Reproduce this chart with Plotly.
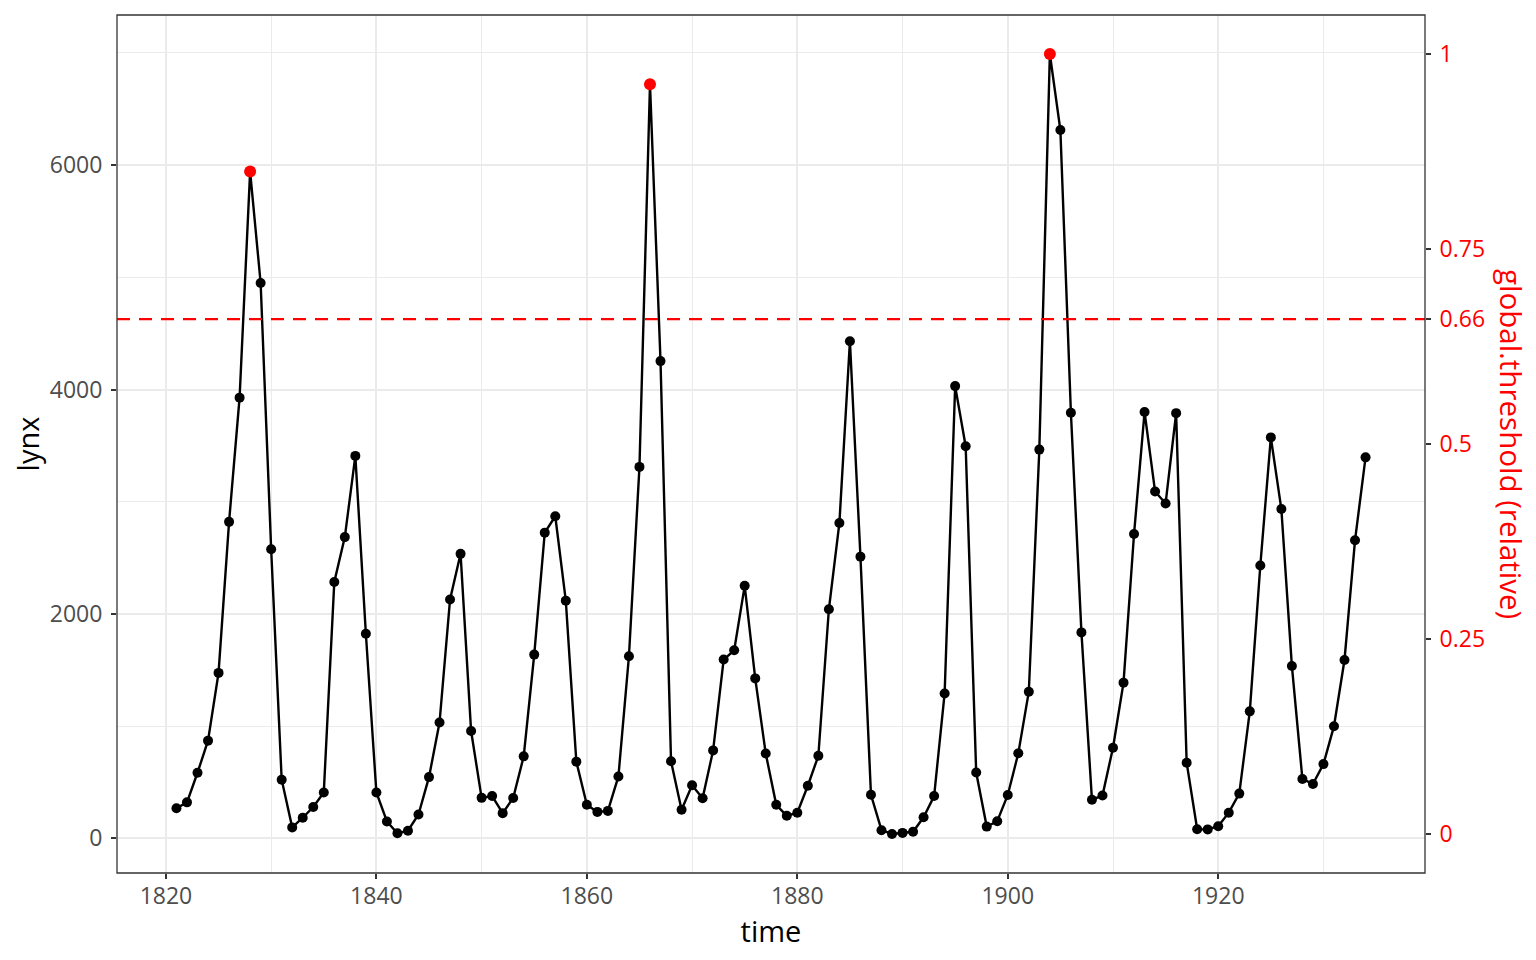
import plotly.graph_objects as go

years = list(range(1821, 1935))
lynx = [269, 321, 585, 871, 1475, 2821, 3928, 5943, 4950, 2577, 523, 98, 184, 279, 409,
        2285, 2685, 3409, 1824, 409, 151, 45, 68, 213, 546, 1033, 2129, 2536, 957, 361,
        377, 225, 360, 731, 1638, 2725, 2871, 2119, 684, 299, 236, 245, 552, 1623, 3311,
        6721, 4254, 687, 255, 473, 358, 784, 1594, 1676, 2251, 1426, 756, 299, 201, 229,
        469, 736, 2042, 2811, 4431, 2511, 389, 73, 39, 49, 59, 188, 377, 1292, 4031,
        3495, 587, 105, 153, 387, 758, 1307, 3465, 6991, 6313, 3794, 1836, 345, 382,
        808, 1388, 2713, 3800, 3091, 2985, 3790, 674, 81, 80, 108, 229, 399, 1132, 2432,
        3574, 2935, 1537, 529, 485, 662, 1000, 1590, 2657, 3396]
threshold = 0.66
rel_ticks = [0, 0.25, 0.5, 0.66, 0.75, 1]
rel_labels = ["0", "0.25", "0.5", "0.66", "0.75", "1"]

lo, hi = min(lynx), max(lynx)
span = hi - lo
rel = [(v - lo) / span for v in lynx]

# peaks above threshold (local maxima)
peak_x, peak_y = [], []
for i, v in enumerate(lynx):
    left = lynx[i - 1] if i > 0 else -1
    right = lynx[i + 1] if i < len(lynx) - 1 else -1
    if rel[i] > threshold and v > left and v > right:
        peak_x.append(years[i])
        peak_y.append(v)

pad = 0.05 * span
yr = [lo - pad, hi + pad]
xpad = 0.05 * (years[-1] - years[0])
xr = [years[0] - xpad, years[-1] + xpad]

FONT = "Open Sans"
GRID = "#EBEBEB"

fig = go.Figure()
fig.add_trace(go.Scatter(x=years, y=lynx, mode="lines+markers",
                         line=dict(color="black", width=2.4),
                         marker=dict(color="black", size=10),
                         showlegend=False))
fig.add_trace(go.Scatter(x=peak_x, y=peak_y, mode="markers",
                         marker=dict(color="red", size=12),
                         showlegend=False))
fig.add_trace(go.Scatter(x=years, y=rel, yaxis="y2", mode="markers",
                         marker=dict(opacity=0), hoverinfo="skip", showlegend=False))

fig.add_shape(type="line", xref="paper", x0=0, x1=1, yref="y2", y0=threshold, y1=threshold,
              line=dict(color="red", width=2.2, dash="13px,9px"), layer="above")
fig.add_shape(type="rect", xref="paper", yref="paper", x0=0, x1=1, y0=0, y1=1,
              line=dict(color="#333333", width=1.3), layer="above")

tickfont = dict(family=FONT, size=23, color="#4D4D4D")

fig.update_layout(
    width=1528, height=952,
    margin=dict(l=109, r=111, t=7, b=87),
    paper_bgcolor="white", plot_bgcolor="white",
    font=dict(family=FONT),
    xaxis=dict(range=xr, tick0=1820, dtick=20, showgrid=True, gridcolor=GRID, gridwidth=1.5,
               minor=dict(dtick=10, showgrid=True, gridcolor=GRID, gridwidth=0.8),
               ticks="outside", ticklen=5, tickwidth=1.5, tickcolor="#333333",
               tickfont=tickfont, zeroline=False, showline=False, ticklabelstandoff=-3,
               title=dict(text="time", font=dict(family=FONT, size=29, color="black"), standoff=2)),
    yaxis=dict(range=yr, tick0=0, dtick=2000, showgrid=True, gridcolor=GRID, gridwidth=1.5,
               minor=dict(dtick=1000, showgrid=True, gridcolor=GRID, gridwidth=0.8),
               ticks="outside", ticklen=5, tickwidth=1.5, tickcolor="#333333",
               tickfont=tickfont, zeroline=False, showline=False, ticklabelstandoff=4,
               title=dict(text="lynx", font=dict(family=FONT, size=29, color="black"), standoff=10)),
    yaxis2=dict(range=[(yr[0] - lo) / span, (yr[1] - lo) / span], overlaying="y", side="right",
                tickvals=rel_ticks, ticktext=rel_labels, showgrid=False, zeroline=False,
                ticks="outside", ticklen=5, tickwidth=1.5, tickcolor="#333333",
                ticklabelstandoff=4,
                tickfont=dict(family=FONT, size=23, color="red"), showline=False),
    annotations=[dict(text="global.threshold (relative)", xref="paper", yref="paper",
                      x=1, y=0.5, xanchor="center", yanchor="middle", xshift=87,
                      textangle=90, showarrow=False,
                      font=dict(family=FONT, size=29.5, color="red"))],
)

fig.write_html("out.html")
